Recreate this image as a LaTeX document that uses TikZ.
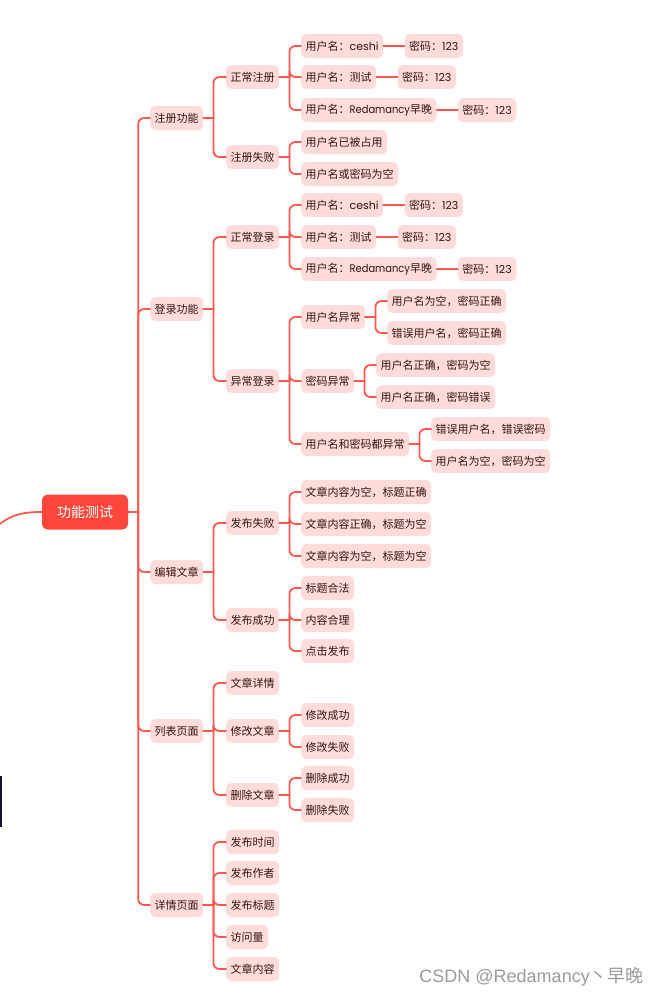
\documentclass[tikz,border=0pt]{standalone}
\usepackage{fontspec}
\setmainfont{Noto Sans CJK SC}
\newfontfamily\pop{Poppins}
\newfontfamily\popn[FakeStretch=0.9]{Poppins}
\newfontfamily\lib{Liberation Sans}
\definecolor{lc}{RGB}{255,88,78}
\definecolor{bf}{RGB}{255,219,217}
\definecolor{tc}{RGB}{55,18,18}
\definecolor{rootc}{RGB}{255,70,60}
\definecolor{wm}{RGB}{155,155,155}
\definecolor{navy}{RGB}{20,20,50}
\newcommand\mmlink[2]{%
  \draw[conn] (#1.east) -- ([xshift=10pt]#1.east);
  \draw[conn,rounded corners=6pt] ([xshift=10pt]#1.east) |- (#2.west);}
\tikzset{
  box/.style={fill=bf, rounded corners=5pt, text=tc, font=\fontsize{11}{13}\selectfont,
    inner xsep=4.5pt, inner ysep=0pt, minimum height=24pt, anchor=west},
  rootbox/.style={fill=rootc, rounded corners=6pt, text=white, font=\fontsize{14}{16}\selectfont,
    minimum width=86pt, minimum height=35pt, inner sep=0pt},
  conn/.style={draw=lc, line width=1.8pt, line cap=round},
}
\begin{document}
\begin{tikzpicture}[x=1pt,y=-1pt]
\useasboundingbox (0,0) rectangle (659,997);
% root
\node[rootbox] (r) at (85,512) {功能测试};
\coordinate (offl) at (0,524);
\draw[conn] (offl) .. controls (12,514) and (25,512) .. (r.west);
\fill[navy] (0,776) rectangle (2.2,827);
% level 1
\node[box] (a1) at (150,118) {注册功能};
\node[box] (a2) at (150,309) {登录功能};
\node[box] (a3) at (150,572) {编辑文章};
\node[box] (a4) at (150,731) {列表页面};
\node[box] (a5) at (150,905) {详情页面};
% level 2
\node[box] (b11) at (226,77) {正常注册};
\node[box] (b12) at (226,157) {注册失败};
\node[box] (b21) at (226,237) {正常登录};
\node[box] (b22) at (226,381) {异常登录};
\node[box] (b31) at (226,523) {发布失败};
\node[box] (b32) at (226,620) {发布成功};
\node[box] (b41) at (226,683) {文章详情};
\node[box] (b42) at (226,731) {修改文章};
\node[box] (b43) at (226,795) {删除文章};
\node[box] (b51) at (226,842) {发布时间};
\node[box] (b52) at (226,873) {发布作者};
\node[box] (b53) at (226,905) {发布标题};
\node[box] (b54) at (226,937) {访问量};
\node[box] (b55) at (226,969) {文章内容};
% level 3
\node[box] (c111) at (301,46) {用户名：{\pop ceshi}};
\node[box] (c112) at (301,77) {用户名：测试};
\node[box] (c113) at (301,110) {用户名：{\popn Redamancy}早晚};
\node[box] (c121) at (301,142) {用户名已被占用};
\node[box] (c122) at (301,174) {用户名或密码为空};
\node[box] (c211) at (301,205) {用户名：{\pop ceshi}};
\node[box] (c212) at (301,237) {用户名：测试};
\node[box] (c213) at (301,269) {用户名：{\popn Redamancy}早晚};
\node[box] (c221) at (301,317) {用户名异常};
\node[box] (c222) at (301,381) {密码异常};
\node[box] (c223) at (301,444) {用户名和密码都异常};
\node[box] (c311) at (301,492) {文章内容为空，标题正确};
\node[box] (c312) at (301,524) {文章内容正确，标题为空};
\node[box] (c313) at (301,556) {文章内容为空，标题为空};
\node[box] (c321) at (301,588) {标题合法};
\node[box] (c322) at (301,620) {内容合理};
\node[box] (c323) at (301,651) {点击发布};
\node[box] (c421) at (301,715) {修改成功};
\node[box] (c422) at (301,747) {修改失败};
\node[box] (c431) at (301,778) {删除成功};
\node[box] (c432) at (301,810) {删除失败};
% level 4
\foreach \c in {c111,c112,c113,c211,c212,c213}{
  \node[box] (p\c) at ([xshift=21pt]\c.east) {密码：{\pop 123}};
  \draw[conn] (\c.east) -- (p\c.west);
}
\node[box] (d1) at (387,301) {用户名为空，密码正确};
\node[box] (d2) at (387,333) {错误用户名，密码正确};
\node[box] (d3) at (376,365) {用户名正确，密码为空};
\node[box] (d4) at (376,397) {用户名正确，密码错误};
\node[box] (d5) at (431,429) {错误用户名，错误密码};
\node[box] (d6) at (431,461) {用户名为空，密码为空};
% connectors
\foreach \p/\c in {r/a1,r/a2,r/a3,r/a4,r/a5,
  a1/b11,a1/b12,a2/b21,a2/b22,a3/b31,a3/b32,a4/b41,a4/b42,a4/b43,
  a5/b51,a5/b52,a5/b53,a5/b54,a5/b55,
  b11/c111,b11/c112,b11/c113,b12/c121,b12/c122,
  b21/c211,b21/c212,b21/c213,b22/c221,b22/c222,b22/c223,
  b31/c311,b31/c312,b31/c313,b32/c321,b32/c322,b32/c323,
  b42/c421,b42/c422,b43/c431,b43/c432,
  c221/d1,c221/d2,c222/d3,c222/d4,c223/d5,c223/d6}{\mmlink{\p}{\c}}
% watermark
\node[anchor=east, text=wm, font=\fontsize{18}{20}\selectfont, inner sep=0pt] (wmk) at (644,977) {{\lib CSDN @Redamancy}丶早晚};
\end{tikzpicture}
\end{document}
